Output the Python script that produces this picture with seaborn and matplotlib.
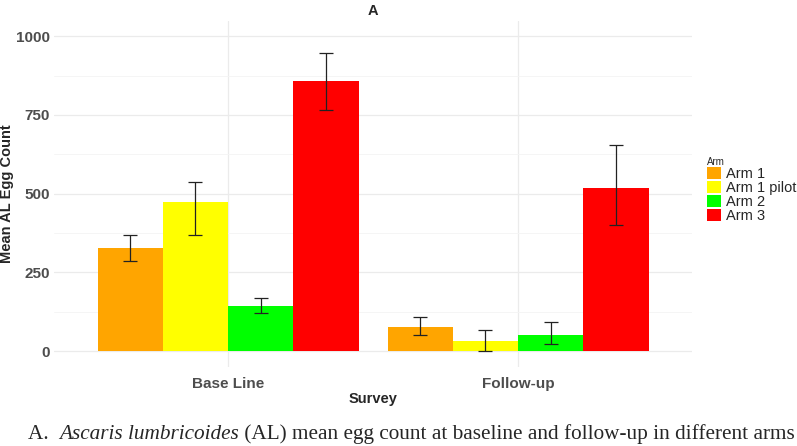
import matplotlib
matplotlib.use("Agg")
import matplotlib.pyplot as plt
import seaborn as sns
import numpy as np
import pandas as pd

# data
surveys = ["Base Line", "Follow-up"]
arms = ["Arm 1", "Arm 1 pilot", "Arm 2", "Arm 3"]
mean_base = [328, 474, 143, 857]
low_base = [287, 370, 121, 767]
high_base = [370, 537, 168, 946]
mean_follow = [77, 32, 53, 519]
low_follow = [53, 1, 22, 400]
high_follow = [108, 69, 93, 653]

colors = {"Arm 1": "#FFA500", "Arm 1 pilot": "#FFFF00", "Arm 2": "#00FF00", "Arm 3": "#FF0000"}

df = pd.DataFrame({
    "Survey": [surveys[0]] * 4 + [surveys[1]] * 4,
    "Arm": arms * 2,
    "mean": mean_base + mean_follow,
    "low": low_base + low_follow,
    "high": high_base + high_follow,
})

sns.set_style("white")
plt.rcParams["font.family"] = ["Liberation Sans", "DejaVu Sans"]

fig = plt.figure(figsize=(7.97, 4.46), dpi=100)
ax = fig.add_axes([54 / 797, 79 / 446, 638 / 797, 346 / 446])

sns.barplot(data=df, x="Survey", y="mean", hue="Arm", order=surveys, hue_order=arms,
            palette=colors, width=0.9, errorbar=None, linewidth=0, saturation=1, ax=ax)

# error bars placed on the bars seaborn drew
for cont, arm in zip(ax.containers, arms):
    sub = df[df["Arm"] == arm].set_index("Survey").loc[surveys]
    xs = [p.get_x() + p.get_width() / 2 for p in cont.patches]
    ax.errorbar(xs, sub["mean"], yerr=[sub["mean"] - sub["low"], sub["high"] - sub["mean"]],
                fmt="none", ecolor="#222222", elinewidth=0.9, capsize=5, capthick=0.9, zorder=5)

ax.set_xlim(-0.6, 1.6)
ax.set_ylim(-50, 1048)
ax.set_yticks([0, 250, 500, 750, 1000])
ax.set_yticks([125, 375, 625, 875], minor=True)
ax.grid(True, which="major", color="#EBEBEB", linewidth=0.9)
ax.grid(True, which="minor", axis="y", color="#F4F4F4", linewidth=0.6)
ax.set_axisbelow(True)
for s in ax.spines.values():
    s.set_visible(False)
ax.tick_params(axis="both", which="both", length=0, labelsize=11, labelcolor="#4D4D4D", pad=3)
ax.tick_params(axis="x", pad=7)
for lab in ax.get_xticklabels() + ax.get_yticklabels():
    lab.set_fontweight("bold")

ax.set_title("A", fontsize=10.5, fontweight="bold", pad=4)
ax.set_ylabel("Mean AL Egg Count", fontsize=10.5, fontweight="bold", labelpad=1)
ax.set_xlabel("Survey", fontsize=10.5, fontweight="bold", labelpad=1)

leg = ax.legend(title="Arm", loc="upper left", bbox_to_anchor=(1.015, 0.625), frameon=False,
                fontsize=10.5, title_fontsize=7, handlelength=0.9, handleheight=0.9,
                handletextpad=0.4, labelspacing=0.0, borderaxespad=0)
leg._legend_box.align = "left"

# caption with italic species name, pieces laid out one after another
fig.canvas.draw()
r = fig.canvas.get_renderer()
x = 28 / 797
y = 7 / 446
for txt, style in [("A.  ", "normal"), ("Ascaris lumbricoides", "italic"),
                   (" (AL) mean egg count at baseline and follow-up in different arms", "normal")]:
    t = fig.text(x, y, txt, family="Liberation Serif", fontstyle=style, fontsize=15.3,
                 va="baseline")
    bb = t.get_window_extent(renderer=r)
    x += bb.width / fig.bbox.width

fig.savefig("out.png", dpi=100)
